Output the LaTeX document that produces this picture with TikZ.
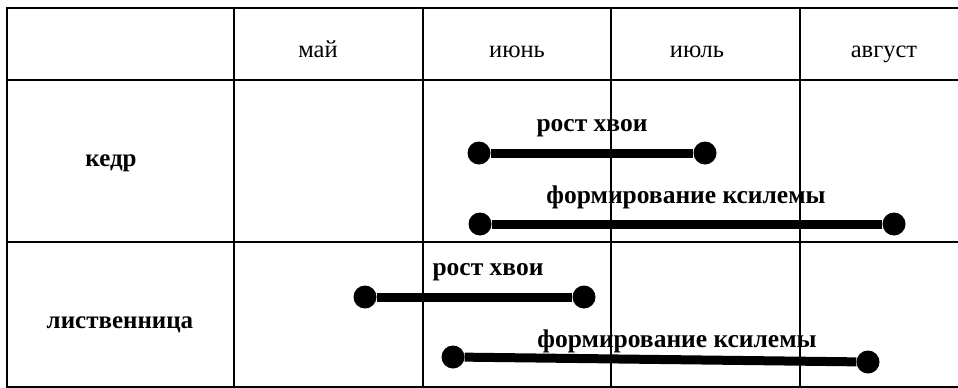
\documentclass[tikz,border=0pt]{standalone}
\usepackage{fontspec}
\setmainfont{Liberation Serif}
\tikzset{
  grid/.style={line width=2pt, black},
  head/.style={font=\fontsize{24.5}{26}\selectfont, inner sep=0pt, anchor=base},
  rowlab/.style={font=\bfseries\fontsize{25}{27}\selectfont, inner sep=0pt, anchor=base},
  barlab/.style={font=\bfseries\fontsize{25.5}{27}\selectfont, inner sep=0pt, anchor=base},
  dot/.style={circle, fill=black, minimum size=23pt, inner sep=0pt},
  bar/.style={line width=9pt, black}
}
\begin{document}
\begin{tikzpicture}[x=1pt,y=-1pt]
\useasboundingbox (0,0) rectangle (958,388);
% grid
\draw[grid] (958,8) -- (7,8) -- (7,387) -- (958,387);
\draw[grid] (7,80) -- (958,80);
\draw[grid] (7,242) -- (958,242);
\draw[grid] (234,8) -- (234,387);
\draw[grid] (423,8) -- (423,387);
\draw[grid] (611,8) -- (611,387);
\draw[grid] (800,8) -- (800,387);
% headers
\node[head] (may) at (318,57) {май};
\node[head] (jun) at (517,57) {июнь};
\node[head] (jul) at (697,57) {июль};
\node[head] (aug) at (884,57) {август};
\node[rowlab] (kedr) at (111,166) {кедр};
\node[rowlab] (larch) at (120,328) {лиственница};
% bars
\node[dot] (k1a) at (479,153) {};
\node[dot] (k1b) at (705,153) {};
\draw[bar] (k1a) -- (k1b);
\node[barlab] (k1l) at (592,131) {рост хвои};
\node[dot] (k2a) at (480,224) {};
\node[dot] (k2b) at (894,224) {};
\draw[bar] (k2a) -- (k2b);
\node[barlab] (k2l) at (686,203) {формирование ксилемы};
\node[dot] (l1a) at (365,297) {};
\node[dot] (l1b) at (584,297) {};
\draw[bar] (l1a) -- (l1b);
\node[barlab] (l1l) at (488,275) {рост хвои};
\node[dot] (l2a) at (453,357) {};
\node[dot] (l2b) at (868,362) {};
\draw[bar] (l2a) -- (l2b);
\node[barlab] (l2l) at (677,347) {формирование ксилемы};
\end{tikzpicture}
\end{document}
